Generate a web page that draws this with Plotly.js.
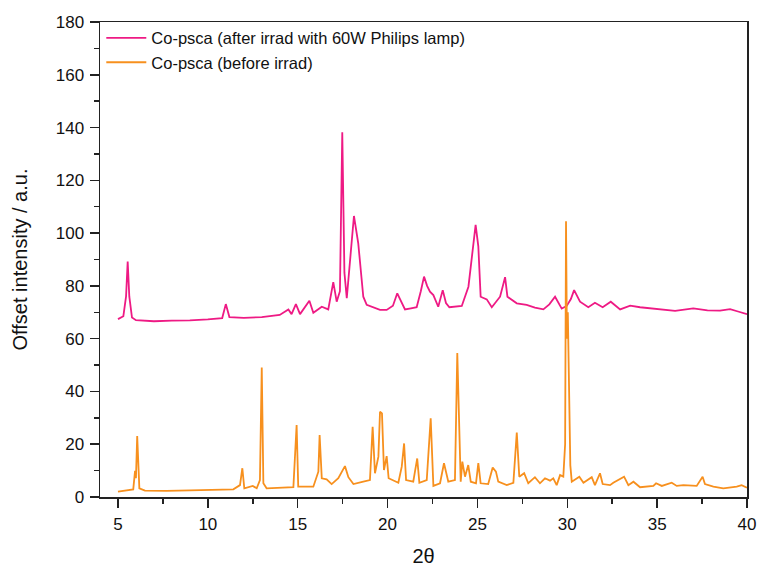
<!DOCTYPE html>
<html>
<head>
<meta charset="utf-8">
<script src="https://cdn.plot.ly/plotly-3.0.1.min.js"></script>
<style>html,body{margin:0;padding:0;background:#fff;}#chart{width:761px;height:567px;}</style>
</head>
<body>
<div id="chart"></div>
<script>
// 2θ positions and offset intensities
const afterName = "Co-psca (after irrad with 60W Philips lamp)";
const afterX = [5.0,5.3,5.45,5.54,5.63,5.78,6.0,7.0,8.0,9.0,10.0,10.8,11.0,11.2,12.0,13.0,14.0,14.48,14.66,14.9,15.13,15.65,15.87,16.34,16.7,16.98,17.17,17.35,17.48,17.6,17.73,17.95,18.13,18.37,18.65,18.84,19.3,19.58,19.95,20.3,20.54,20.97,21.3,21.62,21.85,22.03,22.2,22.36,22.55,22.82,23.07,23.25,23.44,24.13,24.5,24.7,24.9,25.05,25.18,25.52,25.8,26.26,26.54,26.67,27.19,27.74,28.2,28.67,29.0,29.32,29.69,29.97,30.2,30.38,30.71,31.17,31.54,31.97,32.42,32.94,33.5,34.05,34.6,35.16,36.0,37.01,37.8,38.5,39.06,39.5,40.0];
const afterY = [67.4,68.5,76,89.2,76,68,67.0,66.6,66.8,66.9,67.3,67.8,73.1,68.2,67.9,68.2,69.0,71.1,69.3,73.1,69.3,74.4,69.8,72.1,71.1,81.4,74.0,78,138.2,85,75.3,92,106.5,96.1,75.9,72.8,71.5,70.9,70.9,72.5,77.2,71.1,71.5,71.9,78,83.5,80,77.8,76.5,72.1,78.4,73.5,71.9,72.4,79.7,92,103.1,95,75.9,74.9,71.9,75.9,83.3,75.9,73.4,72.8,71.8,71.1,73,75.9,71.4,72.4,75,78.4,74.0,71.9,73.6,71.9,74.0,71.1,72.5,71.9,71.5,70.9,70.5,71.5,70.7,70.6,71.2,70.3,69.3];

const beforeName = "Co-psca (before irrad)";
const beforeX = [5.0,5.5,5.85,5.95,6.0,6.07,6.19,6.5,7.7,9.0,10.5,11.42,11.79,11.92,12.03,12.5,12.72,12.9,13.0,13.09,13.27,14.0,14.76,14.94,15.03,15.87,16.15,16.22,16.34,16.61,16.89,17.26,17.63,17.82,18.1,18.65,19.02,19.17,19.3,19.49,19.58,19.69,19.8,19.95,20.06,20.6,20.79,20.92,21.03,21.43,21.65,21.77,22.18,22.4,22.55,22.92,23.14,23.38,23.75,23.88,23.99,24.07,24.16,24.31,24.49,24.63,24.92,25.05,25.18,25.6,25.85,26.03,26.16,26.63,27.0,27.19,27.33,27.6,27.83,28.2,28.48,28.76,29.04,29.22,29.41,29.6,29.78,29.88,29.93,29.98,30.03,30.1,30.17,30.25,30.67,30.9,31.36,31.54,31.82,31.97,32.38,32.56,33.16,33.4,33.68,34.05,34.79,34.94,35.26,35.81,36.09,36.46,37.2,37.53,37.66,38.13,38.68,39.43,39.7,40.0];
const beforeY = [2.0,2.4,2.9,9.9,7.1,23.1,3.3,2.4,2.3,2.5,2.7,2.9,4.5,10.9,3.3,4.2,3.3,6.4,49.1,5.2,3.3,3.4,3.7,27.3,3.9,3.9,9.6,23.5,7.1,6.7,4.9,7.1,11.7,7.5,4.9,5.8,6.4,26.6,9.0,15.3,32.3,31.7,10.2,15.5,7.1,5.4,11.5,20.3,6.4,5.8,14.6,5.4,6.4,29.8,4.2,5.2,12.8,5.8,6.4,54.6,26.6,5.8,13.4,7.7,12.1,5.8,5.2,12.8,5.2,4.9,11.2,9.6,5.8,4.5,5.4,24.4,7.7,9.0,5.2,7.5,5.2,7.1,6.2,7.1,4.5,8.3,7.7,20,104.5,60,70,33,12,5.8,7.7,5.4,7.5,4.5,9.0,4.9,4.5,5.4,7.7,4.5,5.8,3.7,4.2,5.2,4.2,5.4,4.2,4.5,4.2,7.7,4.9,3.9,3.3,3.9,4.5,3.5];

const traces = [
  {x: afterX, y: afterY, name: afterName, type: 'scatter', mode: 'lines',
   line: {color: '#EE1A84', width: 1.8}},
  {x: beforeX, y: beforeY, name: beforeName, type: 'scatter', mode: 'lines',
   line: {color: '#F7901E', width: 1.8}}
];

const font = "Liberation Sans, Arial, sans-serif";
const layout = {
  width: 761, height: 567,
  margin: {l: 100, r: 14, t: 22, b: 70},
  paper_bgcolor: '#fff', plot_bgcolor: '#fff',
  font: {family: font, color: '#111', size: 17},
  showlegend: true,
  legend: {x: 0.002, y: 1.003, xanchor: 'left', yanchor: 'top',
           bgcolor: 'rgba(0,0,0,0)', font: {size: 16.5, family: font, color: '#111'},
           tracegroupgap: 0, itemwidth: 40, tracegroupgap: 0},
  xaxis: {
    range: [4, 40], tick0: 5, dtick: 5, ticks: 'outside', ticklen: 9, tickwidth: 1.5,
    tickcolor: '#222', showline: true, linecolor: '#222', linewidth: 1.5, mirror: true,
    showgrid: false, zeroline: false, tickfont: {size: 17}, ticklabelstandoff: 2,
    minor: {tick0: 5, dtick: 2.5, ticks: 'outside', ticklen: 5, tickwidth: 1.5, tickcolor: '#222'},
    title: {text: '2θ', font: {size: 20}, standoff: 16}
  },
  yaxis: {
    range: [0, 180], tick0: 0, dtick: 20, ticks: 'outside', ticklen: 9, tickwidth: 1.5,
    tickcolor: '#222', showline: true, linecolor: '#222', linewidth: 1.5, mirror: true,
    showgrid: false, zeroline: false, tickfont: {size: 17}, ticklabelstandoff: 2,
    minor: {tick0: 0, dtick: 10, ticks: 'outside', ticklen: 5, tickwidth: 1.5, tickcolor: '#222'},
    title: {text: 'Offset intensity / a.u.', font: {size: 20}, standoff: 22}
  }
};

Plotly.newPlot('chart', traces, layout, {displayModeBar: false, staticPlot: true});
</script>
</body>
</html>
